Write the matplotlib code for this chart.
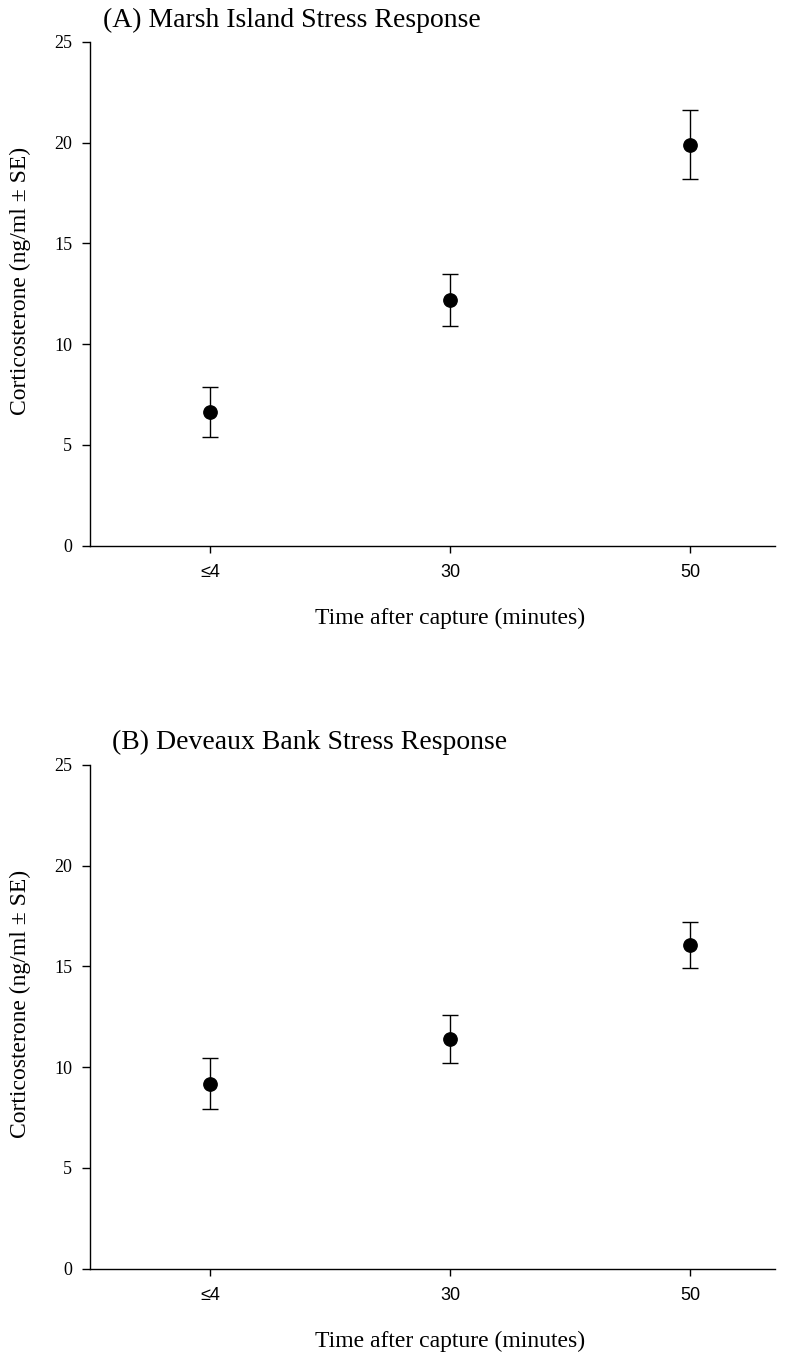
import matplotlib
matplotlib.use('Agg')
import matplotlib.pyplot as plt
import numpy as np

# Data
time_labels = ['\u22644', '30', '50']
marsh_mean = [6.65, 12.2, 19.9]
marsh_se = [1.24, 1.30, 1.72]
deveaux_mean = [9.17, 11.4, 16.06]
deveaux_se = [1.27, 1.18, 1.13]
titles = ['(A) Marsh Island Stress Response', '(B) Deveaux Bank Stress Response']

serif = 'Liberation Serif'
sans = 'Liberation Sans'

W, H = 801, 1356
fig = plt.figure(figsize=(W / 100, H / 100), dpi=100)

# axes boxes in pixels: left, top-of-axis (y=25), bottom-of-axis (y=0)
left_px, right_px = 90, 775
boxes = [(41.7, 545.7), (764.7, 1268.7)]
title_pos = [(103, 20), (112, 742)]

x = np.arange(1, len(time_labels) + 1)
series = [(marsh_mean, marsh_se), (deveaux_mean, deveaux_se)]

for (top_px, bot_px), (mean, se), title, (tx, ty) in zip(boxes, series, titles, title_pos):
    ax = fig.add_axes([left_px / W, 1 - bot_px / H,
                       (right_px - left_px) / W, (bot_px - top_px) / H])
    ax.errorbar(x, mean, yerr=se, fmt='o', color='black', ms=9.6,
                elinewidth=1.0, capsize=5.8, capthick=1.0)
    ax.set_xlim(0.5, 3.354)
    ax.set_ylim(0, 25)
    ax.set_yticks([0, 5, 10, 15, 20, 25])
    ax.set_xticks(x)
    ax.set_xticklabels(time_labels, fontfamily=sans, fontsize=13)
    for lab in ax.get_yticklabels():
        lab.set_fontfamily(serif)
        lab.set_fontsize(13)
    ax.spines['top'].set_visible(False)
    ax.spines['right'].set_visible(False)
    ax.spines['left'].set_linewidth(1.0)
    ax.spines['bottom'].set_linewidth(1.0)
    ax.tick_params(axis='y', direction='out', length=5.8, width=1.0, pad=7)
    ax.tick_params(axis='x', direction='out', length=5.0, width=1.0, pad=8)

    ax.set_xlabel('Time after capture (minutes)', fontfamily=serif, fontsize=17)
    ax.xaxis.set_label_coords(0.5255, (bot_px - 618 + 545.7 - bot_px) / (bot_px - top_px))
    ax.xaxis.label.set_va('center')
    ax.set_ylabel('Corticosterone (ng/ml \u00b1 SE)', fontfamily=serif, fontsize=17)
    ax.yaxis.set_label_coords(-0.102, 0.525)
    ax.yaxis.label.set_va('center')

    fig.text(tx / W, 1 - ty / H, title, fontfamily=serif, fontsize=20,
             ha='left', va='center')

fig.savefig('out.png', dpi=100)
